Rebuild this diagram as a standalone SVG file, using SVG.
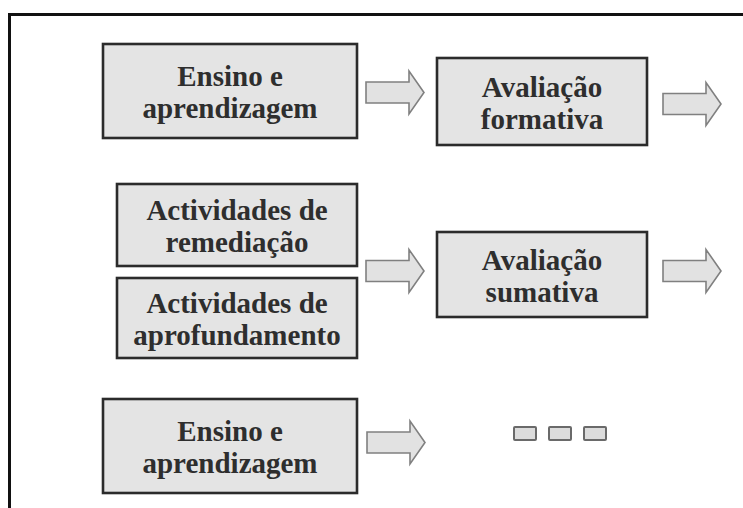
<svg xmlns="http://www.w3.org/2000/svg" width="743" height="508" viewBox="0 0 743 508">
<defs>
<style>
.box{fill:#e4e4e4;stroke:#2b2b2b;stroke-width:2.6}
.t{font-family:"Liberation Serif","Times New Roman",serif;font-weight:bold;font-size:29px;fill:#2e2e2e;text-anchor:middle}
.arr{fill:#e2e2e2;stroke:#808080;stroke-width:1.6;stroke-linejoin:miter}
.dot{fill:#dcdcdc;stroke:#6a6a6a;stroke-width:2}
</style>
<path id="ar" d="M0,-10.5 H43 V-21.5 L58,0 L43,21.5 V10.5 H0 Z"/>
</defs>
<rect width="743" height="508" fill="#ffffff"/>
<path d="M9.5,510 V14.5 H745" fill="none" stroke="#111" stroke-width="3"/>

<g id="connectors">
<use href="#ar" class="arr" transform="translate(366,92.5)"/>
<use href="#ar" class="arr" transform="translate(663,104)"/>
<use href="#ar" class="arr" transform="translate(366,271)"/>
<use href="#ar" class="arr" transform="translate(663,271)"/>
<use href="#ar" class="arr" transform="translate(367,442.5)"/>
</g>

<g id="ensino1">
<rect class="box" x="103" y="44" width="254" height="94"/>
<text class="t" x="230" y="86">Ensino e</text>
<text class="t" x="230" y="118">aprendizagem</text>
</g>
<g id="formativa">
<rect class="box" x="437" y="58" width="210" height="87"/>
<text class="t" x="542" y="96.5">Avaliação</text>
<text class="t" x="542" y="128.5">formativa</text>
</g>
<g id="remediacao">
<rect class="box" x="117" y="184" width="240" height="82"/>
<text class="t" x="237" y="220">Actividades de</text>
<text class="t" x="237" y="252">remediação</text>
</g>
<g id="aprofundamento">
<rect class="box" x="117" y="278" width="240" height="80"/>
<text class="t" x="237" y="313">Actividades de</text>
<text class="t" x="237" y="345">aprofundamento</text>
</g>
<g id="sumativa">
<rect class="box" x="437" y="232" width="210" height="85"/>
<text class="t" x="542" y="269.5">Avaliação</text>
<text class="t" x="542" y="301.5">sumativa</text>
</g>
<g id="ensino2">
<rect class="box" x="103" y="399" width="254" height="94"/>
<text class="t" x="230" y="441">Ensino e</text>
<text class="t" x="230" y="473">aprendizagem</text>
</g>
<g id="ellipsis">
<rect class="dot" x="514" y="427" width="22" height="13" rx="1"/>
<rect class="dot" x="549" y="427" width="22" height="13" rx="1"/>
<rect class="dot" x="584" y="427" width="22" height="13" rx="1"/>
</g>
</svg>
